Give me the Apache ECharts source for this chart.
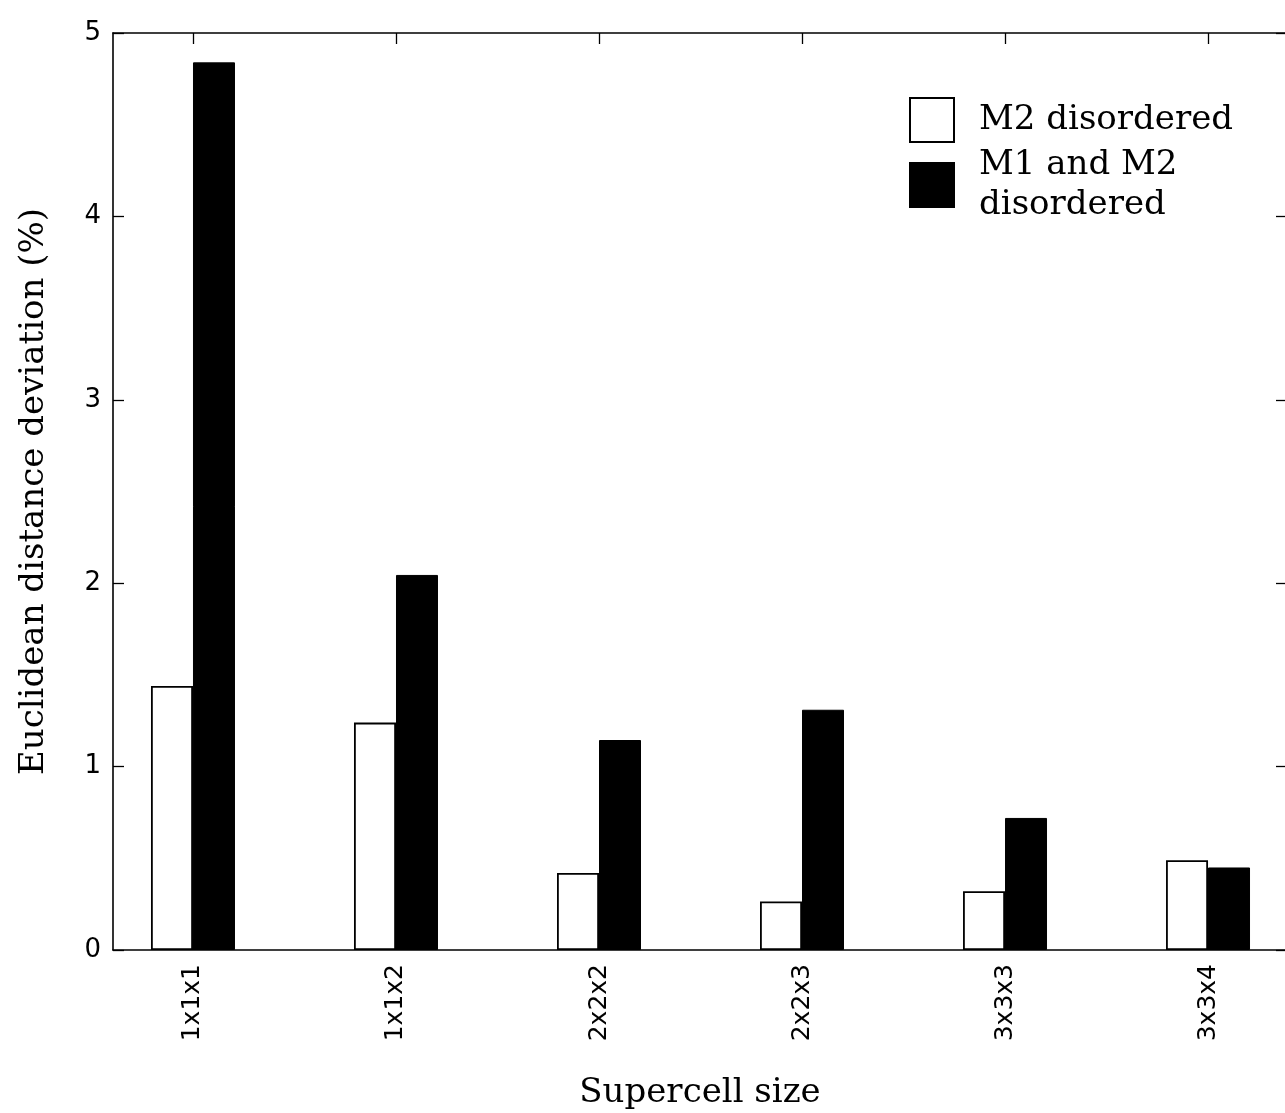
<!DOCTYPE html>
<html>
<head>
<meta charset="utf-8">
<script src="https://cdn.jsdelivr.net/npm/echarts@6/dist/echarts.min.js"></script>
<style>html,body{margin:0;padding:0;background:#fff;}#c{width:1285px;height:1113px;}</style>
</head>
<body>
<div id="c"></div>
<script>
const categories = ['1x1x1', '1x1x2', '2x2x2', '2x2x3', '3x3x3', '3x3x4'];
const m2Disordered = [1.44, 1.24, 0.42, 0.265, 0.32, 0.49];
const m1m2Disordered = [4.84, 2.045, 1.145, 1.31, 0.72, 0.45];
const yTicks = [0, 1, 2, 3, 4, 5];

const idx = categories.map((_, i) => i);
const chart = echarts.init(document.getElementById('c'), null, {renderer: 'canvas'});
const sans = 'DejaVu Sans';
const serif = 'DejaVu Serif';
const axisLine = {show: true, onZero: false, lineStyle: {color: '#000', width: 1.6}};
const tick = {show: true, inside: true, length: 11, lineStyle: {color: '#000', width: 1.3}};

chart.setOption({
  animation: false,
  backgroundColor: '#fff',
  grid: {left: 113, top: 33, bottom: 163, right: -2, containLabel: false, outerBoundsMode: 'none'},
  legend: {
    orient: 'vertical',
    left: 904, top: 92,
    itemWidth: 44, itemHeight: 44, itemGap: 2,
    icon: 'rect',
    textStyle: {fontFamily: serif, fontSize: 34, color: '#000', lineHeight: 40, padding: [0, 0, 0, 20]},
    data: ['M2 disordered', 'M1 and M2\ndisordered']
  },
  xAxis: [{
    type: 'value', position: 'bottom',
    min: -0.394, max: 5.389,
    axisLine: axisLine,
    axisTick: Object.assign({customValues: idx}, tick),
    splitLine: {show: false},
    axisLabel: {
      customValues: idx, rotate: 90, margin: 14,
      fontFamily: sans, fontSize: 25, color: '#000',
      formatter: v => categories[Math.round(v)]
    },
    name: 'Supercell size', nameLocation: 'middle', nameGap: 126,
    nameTextStyle: {fontFamily: serif, fontSize: 34, color: '#000'}
  }, {
    type: 'value', position: 'top',
    min: -0.394, max: 5.389,
    axisLine: axisLine,
    axisTick: Object.assign({customValues: idx}, tick),
    splitLine: {show: false},
    axisLabel: {show: false}
  }],
  yAxis: [{
    type: 'value', min: 0, max: 5, interval: 1, position: 'left',
    axisLine: axisLine,
    axisTick: tick,
    splitLine: {show: false},
    axisLabel: {margin: 12, fontFamily: sans, fontSize: 26, color: '#000',
      formatter: v => yTicks.includes(v) ? String(v) : ''},
    name: 'Euclidean distance deviation (%)', nameLocation: 'middle', nameGap: 62,
    nameTextStyle: {fontFamily: serif, fontSize: 34, color: '#000'}
  }, {
    type: 'value', min: 0, max: 5, interval: 1, position: 'right',
    axisLine: axisLine,
    axisTick: tick,
    splitLine: {show: false},
    axisLabel: {show: false}
  }],
  series: [{
    name: 'M2 disordered', type: 'bar',
    barWidth: 42, barGap: '0%',
    itemStyle: {color: '#fff', borderColor: '#000', borderWidth: 1.8},
    data: m2Disordered.map((v, i) => [i, v])
  }, {
    name: 'M1 and M2\ndisordered', type: 'bar',
    barWidth: 42, barGap: '0%',
    itemStyle: {color: '#000', borderColor: '#000', borderWidth: 1},
    data: m1m2Disordered.map((v, i) => [i, v])
  }]
});
</script>
</body>
</html>
